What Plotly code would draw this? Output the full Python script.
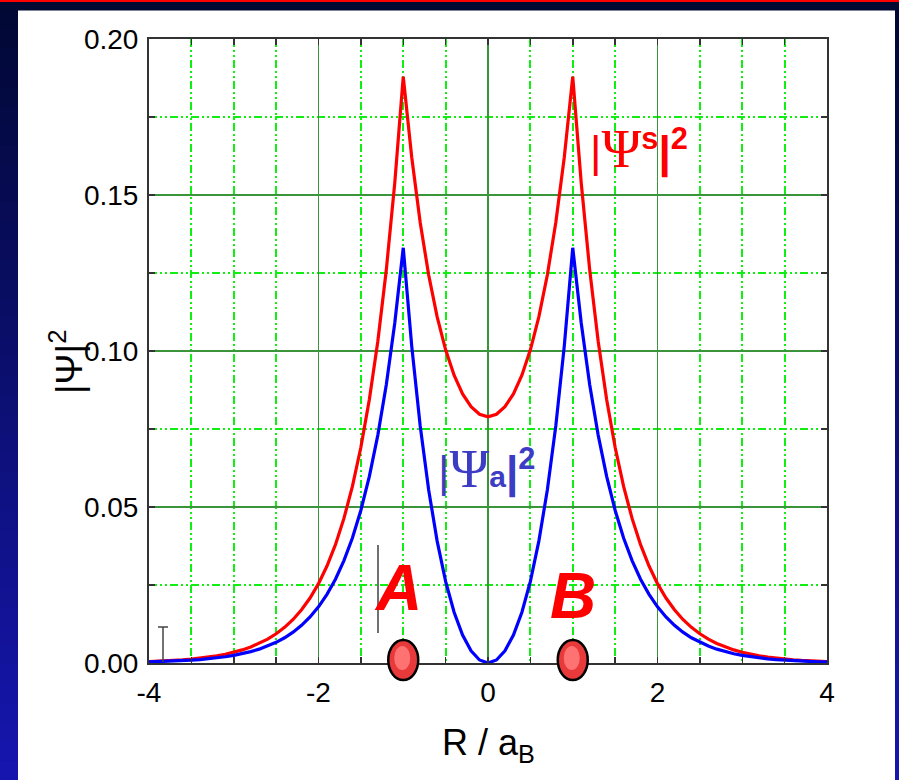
import plotly.graph_objects as go

# ---------------- data ----------------
R_VALUES = [round(-4 + 0.1 * i, 1) for i in range(81)]

PSI_S2 = [0.00047, 0.00057, 0.00070, 0.00085, 0.00104, 0.00127, 0.00155, 0.00189, 0.00231, 0.00282,
          0.00344, 0.00420, 0.00514, 0.00627, 0.00766, 0.00936, 0.01143, 0.01396, 0.01705, 0.02082,
          0.02543, 0.03107, 0.03794, 0.04634, 0.05661, 0.06914, 0.08444, 0.10314, 0.12598, 0.15387,
          0.18793, 0.16210, 0.14118, 0.12435, 0.11092, 0.10036, 0.09224, 0.08625, 0.08213, 0.07972,
          0.07893,
          0.07972, 0.08213, 0.08625, 0.09224, 0.10036, 0.11092, 0.12435, 0.14118, 0.16210, 0.18793,
          0.15387, 0.12598, 0.10314, 0.08444, 0.06914, 0.05661, 0.04634, 0.03794, 0.03107, 0.02543,
          0.02082, 0.01705, 0.01396, 0.01143, 0.00936, 0.00766, 0.00627, 0.00514, 0.00420, 0.00344,
          0.00282, 0.00231, 0.00189, 0.00155, 0.00127, 0.00104, 0.00085, 0.00070, 0.00057, 0.00047]

PSI_A2 = [0.00033, 0.00040, 0.00049, 0.00060, 0.00073, 0.00090, 0.00110, 0.00134, 0.00163, 0.00200,
          0.00244, 0.00298, 0.00364, 0.00444, 0.00543, 0.00663, 0.00809, 0.00988, 0.01207, 0.01475,
          0.01801, 0.02200, 0.02687, 0.03282, 0.04008, 0.04896, 0.05980, 0.07304, 0.08921, 0.10896,
          0.13308, 0.10154, 0.07600, 0.05545, 0.03906, 0.02617, 0.01626, 0.00894, 0.00391, 0.00097,
          0.0,
          0.00097, 0.00391, 0.00894, 0.01626, 0.02617, 0.03906, 0.05545, 0.07600, 0.10154, 0.13308,
          0.10896, 0.08921, 0.07304, 0.05980, 0.04896, 0.04008, 0.03282, 0.02687, 0.02200, 0.01801,
          0.01475, 0.01207, 0.00988, 0.00809, 0.00663, 0.00543, 0.00444, 0.00364, 0.00298, 0.00244,
          0.00200, 0.00163, 0.00134, 0.00110, 0.00090, 0.00073, 0.00060, 0.00049, 0.00040, 0.00033]

X_TICKS = [-4, -2, 0, 2, 4]
Y_TICKS = [0.00, 0.05, 0.10, 0.15, 0.20]
NUCLEI_X = [-1, 1]
NUCLEI_LABELS = ["A", "B"]

# ---------------- layout geometry ----------------
W, H = 899, 780
L, R, T, B = 149, 827, 39, 663


def px(x):
    return (x - L) / (R - L)


def py(y):
    return (B - y) / (B - T)


FONT = "Liberation Sans, Arial, sans-serif"
SERIF = "Liberation Serif"

fig = go.Figure()
fig.add_trace(go.Scatter(x=R_VALUES, y=PSI_S2, mode="lines",
                         line=dict(color="#ff0000", width=3.2), showlegend=False, hoverinfo="skip"))
fig.add_trace(go.Scatter(x=R_VALUES, y=PSI_A2, mode="lines",
                         line=dict(color="#0000ff", width=3.2), showlegend=False, hoverinfo="skip"))

shapes = []


def lerp(c1, c2, t):
    return "rgb(%d,%d,%d)" % tuple(round(a + (b - a) * t) for a, b in zip(c1, c2))


top_c = (1, 8, 52)
bot_c = (22, 22, 176)
N = 40
for i in range(N):
    y0 = 10 + (H - 10) * i / N
    y1 = 10 + (H - 10) * (i + 1) / N + 1
    col = lerp(top_c, bot_c, (i + 0.5) / N)
    for xa, xb in [(0, 18), (895, W)]:
        shapes.append(dict(type="rect", xref="paper", yref="paper", layer="above",
                           x0=px(xa), x1=px(xb), y0=py(y1), y1=py(y0),
                           fillcolor=col, line=dict(width=0)))
# top navy band and red line
shapes.append(dict(type="rect", xref="paper", yref="paper", layer="above",
                   x0=px(0), x1=px(W), y0=py(10.5), y1=py(0),
                   fillcolor="rgb(1,8,50)", line=dict(width=0)))
shapes.append(dict(type="rect", xref="paper", yref="paper", layer="above",
                   x0=px(0), x1=px(W), y0=py(2), y1=py(0),
                   fillcolor="#ff0000", line=dict(width=0)))

# small error-bar-like marker at left
shapes.append(dict(type="line", xref="paper", yref="paper", layer="above",
                   x0=px(163), x1=px(163), y0=py(662), y1=py(627),
                   line=dict(color="#444444", width=1.5)))
shapes.append(dict(type="line", xref="paper", yref="paper", layer="above",
                   x0=px(158), x1=px(168), y0=py(627), y1=py(627),
                   line=dict(color="#444444", width=1.5)))
# thin vertical black line next to "A"
shapes.append(dict(type="line", xref="paper", yref="paper", layer="above",
                   x0=px(378), x1=px(378), y0=py(633), y1=py(545),
                   line=dict(color="#111111", width=1.2)))

# nuclei (red balls)
for nx in NUCLEI_X:
    cx = L + (nx + 4) / 8 * (R - L)
    shapes.append(dict(type="circle", xref="paper", yref="paper", layer="above",
                       x0=px(cx - 15), x1=px(cx + 15), y0=py(680), y1=py(640),
                       fillcolor="#e83a3a", line=dict(color="#000000", width=2.5)))
    shapes.append(dict(type="circle", xref="paper", yref="paper", layer="above",
                       x0=px(cx - 9), x1=px(cx + 7), y0=py(670), y1=py(646),
                       fillcolor="#ff7272", line=dict(width=0)))

annotations = []
# axis titles
annotations.append(dict(text="R / a<sub>B</sub>", xref="paper", yref="paper",
                        x=px(488), y=py(745), showarrow=False, xanchor="center", yanchor="middle",
                        font=dict(family=FONT, size=36, color="#000000")))
annotations.append(dict(text="|Ψ|<sup>2</sup>", xref="paper", yref="paper",
                        x=px(67), y=py(362), showarrow=False, xanchor="center", yanchor="middle",
                        textangle=-90, font=dict(family=FONT, size=37, color="#000000")))
# curve labels
annotations.append(dict(
    text="|<span style='font-family:%s;font-size:54px'>Ψ</span><b><sup>s</sup>|<sup>2</sup></b>" % SERIF,
    xref="paper", yref="paper", x=px(639), y=py(149), showarrow=False,
    xanchor="center", yanchor="middle",
    font=dict(family=FONT, size=44, color="#ff0000")))
annotations.append(dict(
    text="|<span style='font-family:%s;font-size:54px'>Ψ</span><b><span style='font-size:30px'>a</span>|<sup>2</sup></b>" % SERIF,
    xref="paper", yref="paper", x=px(486), y=py(469), showarrow=False,
    xanchor="center", yanchor="middle",
    font=dict(family=FONT, size=44, color="#3c3cc4")))
# nuclei labels
for nx, lab, cy in zip(NUCLEI_X, NUCLEI_LABELS, [588, 596]):
    cx = L + (nx + 4) / 8 * (R - L)
    annotations.append(dict(text="<b><i>%s</i></b>" % lab, xref="paper", yref="paper",
                            x=px(cx - 5 if lab == "A" else cx), y=py(cy), showarrow=False,
                            xanchor="center", yanchor="middle",
                            font=dict(family=FONT, size=64, color="#ff0000")))

axis_common = dict(
    showline=True, linecolor="#333333", linewidth=2, mirror="ticks",
    ticks="inside", ticklen=6, tickwidth=1.5, tickcolor="#333333",
    showgrid=True, gridcolor="#3a943a", gridwidth=1.8,
    zeroline=False,
    tickfont=dict(family=FONT, size=28, color="#000000"),
)

MINOR_DASH = "8px,3px,2px,3px,2px,3px"

fig.update_xaxes(range=[-4, 4], tickvals=X_TICKS, ticktext=[str(v) for v in X_TICKS],
                 minor=dict(dtick=0.5, tick0=0, ticks="inside", ticklen=6, tickwidth=1.5, tickcolor="#333333",
                            showgrid=True, gridcolor="#11ee11", gridwidth=1.8,
                            griddash=MINOR_DASH),
                 ticklabelstandoff=3,
                 **axis_common)
fig.update_yaxes(range=[0, 0.2], tickvals=Y_TICKS, ticktext=["%.2f" % v for v in Y_TICKS],
                 minor=dict(dtick=0.025, tick0=0, ticks="inside", ticklen=6, tickwidth=1.5, tickcolor="#333333",
                            showgrid=True, gridcolor="#11ee11", gridwidth=1.8,
                            griddash=MINOR_DASH),
                 ticklabelstandoff=3,
                 **axis_common)

fig.update_layout(
    width=W, height=H,
    margin=dict(l=L, r=W - R, t=T, b=H - B, pad=0),
    paper_bgcolor="#ffffff", plot_bgcolor="#ffffff",
    shapes=shapes, annotations=annotations,
    showlegend=False,
)

fig.write_html("out.html", config={"displayModeBar": False, "staticPlot": True},
               post_script="document.body.style.margin='0px';document.body.style.overflow='hidden';")
